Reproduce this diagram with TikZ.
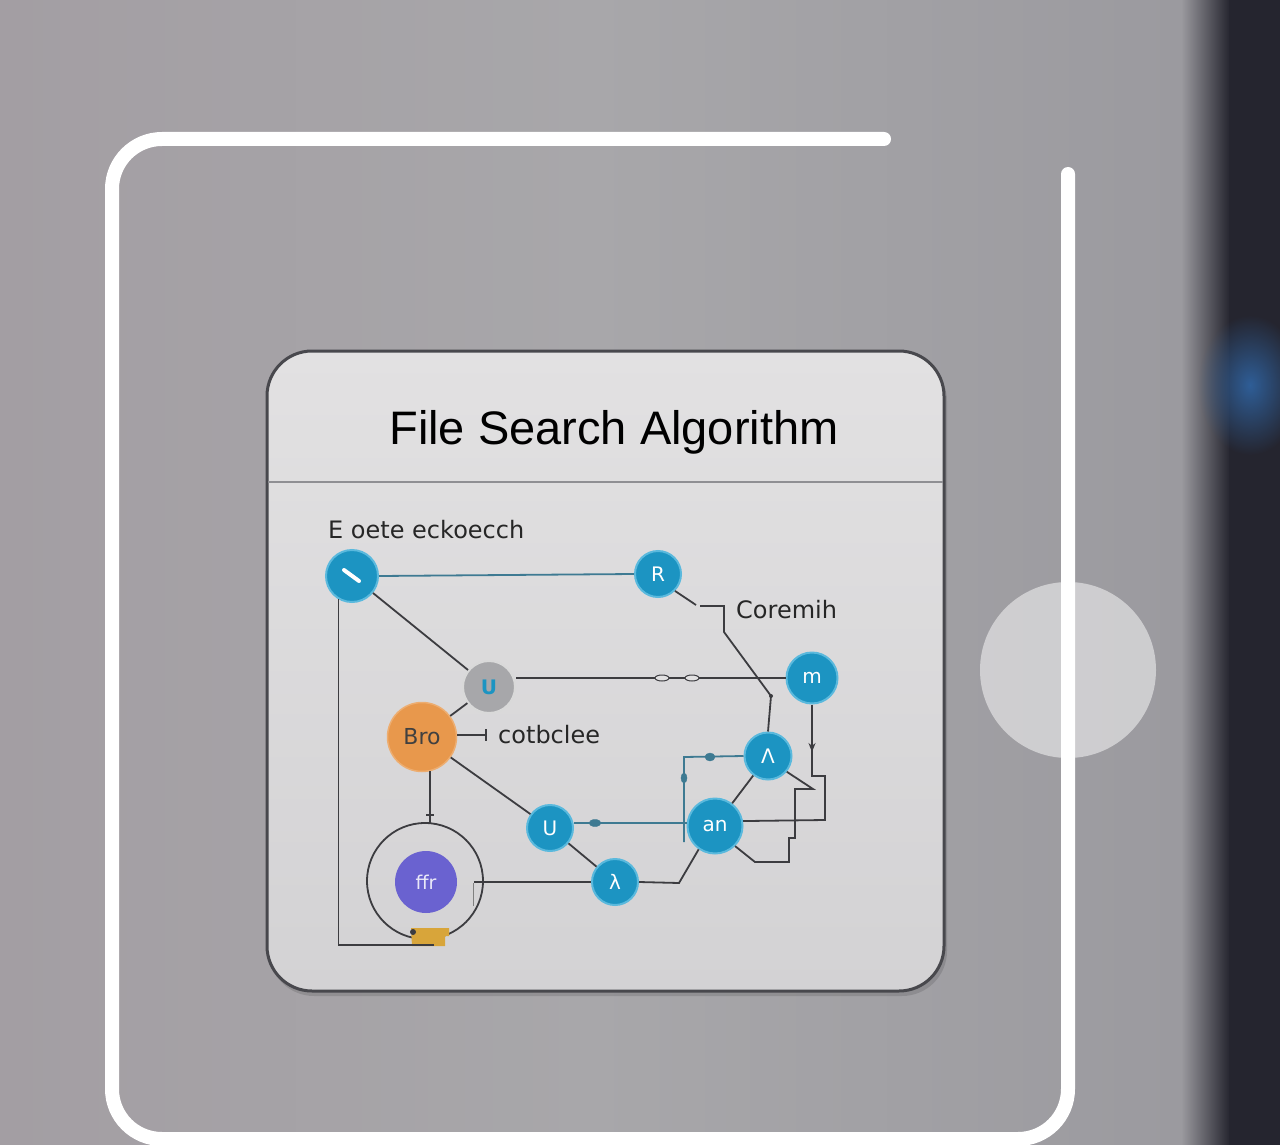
\documentclass[tikz,border=0pt]{standalone}
\usepackage{fontspec}
\setmainfont{Liberation Sans}
\newfontfamily\dejavu{DejaVu Sans}
\usetikzlibrary{arrows.meta,fadings}
\tikzfading[name=glowfade, inner color=transparent!0, outer color=transparent!100]
\definecolor{bgl}{HTML}{A39EA3}
\definecolor{bgm}{HTML}{A8A7AA}
\definecolor{bgr}{HTML}{9B9A9F}
\definecolor{darkstrip}{HTML}{25252F}
\definecolor{glowblue}{HTML}{2F5E97}
\definecolor{cardtop}{HTML}{E2E1E2}
\definecolor{cardbot}{HTML}{D3D2D4}
\definecolor{cardedge}{HTML}{48484D}
\definecolor{divider}{HTML}{8F8F93}
\definecolor{nodeblue}{HTML}{1C94C2}
\definecolor{nodeedge}{HTML}{5AB9DD}
\definecolor{wire}{HTML}{3C3C40}
\definecolor{wireblue}{HTML}{3E7A92}
\definecolor{orangenode}{HTML}{E8984C}
\definecolor{purplenode}{HTML}{6A62D0}
\definecolor{graynode}{HTML}{A7A7AA}
\definecolor{goldc}{HTML}{D8A53A}
\tikzset{
  tnode/.style={circle, fill=nodeblue, draw=nodeedge, line width=2, inner sep=0pt, text=white,
     font=\dejavu\fontsize{20}{20}\selectfont},
  wireline/.style={draw=wire, line width=1.8},
  bluewire/.style={draw=wireblue, line width=1.8},
  smalltext/.style={font=\dejavu\fontsize{24}{24}\selectfont, text=black!85, inner sep=0pt},
  bead/.style={draw=wire, fill=cardtop, line width=1},
  bluebead/.style={fill=wireblue, draw=wireblue}
}
\begin{document}
\begin{tikzpicture}[x=1pt,y=-1pt]
\useasboundingbox (0,0) rectangle (1280,1145);
% background
\shade[left color=bgl, right color=bgr, middle color=bgm] (0,0) rectangle (1182,1145);
\shade[left color=bgr, right color=darkstrip] (1181,0) rectangle (1230,1145);
\fill[darkstrip] (1229,0) rectangle (1280,1145);
\fill[glowblue, path fading=glowfade, fit fading=true] (1250,385) ellipse (52 and 70);
% translucent circle
\fill[white, opacity=0.5] (1068,670) circle (88);
% white frame
\draw[white, line width=14, line cap=round, rounded corners=50]
  (884,139) -- (112,139) -- (112,1139) -- (1068,1139) -- (1068,174);
% card
\fill[black, opacity=0.12, rounded corners=45] (269,356) rectangle (947,996);
\shade[top color=cardtop, bottom color=cardbot, rounded corners=45] (267,351) rectangle (944,991);
\draw[cardedge, line width=3, rounded corners=45] (267,351) rectangle (944,991);
\draw[divider, line width=1.2] (268,482) -- (943,482);
\node[anchor=base, inner sep=0pt, font=\fontsize{47}{50}\selectfont] (title) at (614,444) {File Search Algorithm};
% texts
\node[smalltext, anchor=base west] (t1) at (328,538) {E oete eckoecch};
\node[smalltext, anchor=base west] (t2) at (736,618) {Coremih};
\node[smalltext, anchor=base west] (t3) at (498,743) {cotbclee};
% ring and gold tab
\node[circle, draw=wire, line width=1.8, minimum size=116, inner sep=0pt] (ring) at (425,881) {};
\fill[goldc] (411,928) -- (449,928) -- (449,936) -- (445,936) -- (445,946) -- (412,946) -- cycle;
\fill[wire] (413,932) circle (3);
% nodes
\node[tnode, minimum size=52] (A) at (352,576) {};
\node[tnode, minimum size=46] (B) at (658,574) {R};
\node[circle, fill=graynode, draw=gray!30, line width=2, minimum size=52, inner sep=0pt,
  font=\dejavu\bfseries\fontsize{20}{20}\selectfont, text=nodeblue] (C) at (489,687) {U};
\node[circle, fill=orangenode, draw=orangenode!80!white, line width=1.5, minimum size=69, inner sep=0pt,
  font=\dejavu\fontsize{22}{22}\selectfont, text=black!75] (D) at (422,737) {Bro};
\node[circle, fill=purplenode, minimum size=62, inner sep=0pt, text=white!85!purplenode,
  font=\dejavu\fontsize{19}{19}\selectfont] (E) at (426,882) {ffr};
\node[tnode, minimum size=51] (F) at (812,678) {m};
\node[tnode, minimum size=47] (G) at (768,756) {Λ};
\node[tnode, minimum size=55] (H) at (715,826) {an};
\node[tnode, minimum size=46] (I) at (550,828) {U};
\node[tnode, minimum size=46] (J) at (615,882) {λ};
\draw[white, line width=4, line cap=round] (A) ++(-8,-6) -- ++(15,11);
% coordinates
\coordinate (b1) at (696,605);
\coordinate (b2) at (724,606);
\coordinate (b3) at (724,632);
\coordinate (b4) at (771,696);
\coordinate (tick) at (486,735);
\coordinate (lc) at (338,945);
\coordinate (lg) at (434,945);
\coordinate (gb1) at (684,757);
\coordinate (gb2) at (684,842);
\coordinate (jh) at (679,883);
\coordinate (f1) at (812,776);
\coordinate (f2) at (825,776);
\coordinate (f3) at (825,820);
\coordinate (g1) at (813,789);
\coordinate (g2) at (795,789);
\coordinate (g3) at (795,838);
\coordinate (g4) at (789,838);
\coordinate (g5) at (789,862);
\coordinate (g6) at (755,862);
% connectors
\draw[bluewire] (A.east) -- (B.west);
\draw[wireline] (A) -- (C);
\draw[wireline] (A.-120) |- (lc) -- (lg);
\draw[wireline] (B.-45) -- (b1);
\draw[wireline] (700,606) -- (b2) -- (b3) -- (b4) -- (G.north);
\fill[wire] (b4) circle (2);
\draw[wireline] (C.east |- F.west) -- (F.west);
\draw[bead] (662,678) ellipse (7 and 3);
\draw[bead] (692,678) ellipse (7 and 3);
\draw[wireline] (C) -- (D);
\draw[wireline] (D.east |- tick) -- (tick);
\draw[wireline] (tick) ++(0,-6) -- ++(0,12);
\draw[wireline] (430,771) -- (430,824);
\draw[wireline] (426,815) -- (434,815);
\draw[wireline] (D) -- (I);
\draw[bluewire] (I.east |- 0,823) -- (H.west |- 0,823);
\draw[bluebead] (595,823) ellipse (6 and 3.5);
\draw[wireline] (I) -- (J);
\draw[wireline] (474,882) -- (J.west);
\draw[gray, line width=1] (473,883) -- (473,906);
\draw[wireline] (J.east) -- (jh) -- (H.-125);
\draw[wireline] (H) -- (G);
\draw[bluewire] (G.west) -- (gb1) -- (gb2);
\draw[bluebead] (710,757) ellipse (5 and 4);
\draw[bluebead] (684,778) ellipse (3 and 5);
\draw[wireline, -{Stealth[length=9, width=7]}] (F.south) -- (812,752);
\draw[wireline] (812,748) -- (f1) -- (f2) -- (f3) -- (H.10);
\draw[wireline] (G.-40) -- (g1) -- (g2) -- (g3) -- (g4) -- (g5) -- (g6) -- (H.-45);
\end{tikzpicture}
\end{document}
